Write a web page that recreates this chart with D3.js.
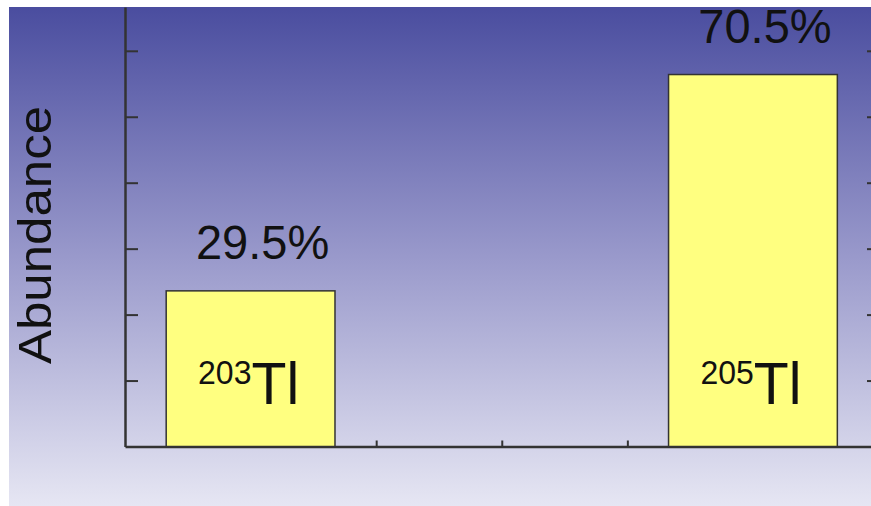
<!DOCTYPE html>
<html>
<head>
<meta charset="utf-8">
<script src="https://cdn.jsdelivr.net/npm/d3@7"></script>
<style>
  html, body { margin: 0; padding: 0; background: #ffffff; }
  svg { display: block; }
  text { font-family: "Liberation Sans", Arial, Helvetica, sans-serif; fill: #111; }
</style>
</head>
<body>
<svg id="chart" width="871" height="506"></svg>
<script>
// ---- data ----
const isotopes = ["203", "205"];        // mass numbers
const abundances = [29.5, 70.5];        // percent
const valueLabels = ["29.5%", "70.5%"];
const element = "Tl";
const axisTitle = "Abundance";
const yTickValues = [12.5, 25, 37.5, 50, 62.5, 75];
const xTickValues = [203, 203.5, 204, 204.5, 205];

const svg = d3.select("#chart");
const W = 871, H = 506;

// background gradient panel
const defs = svg.append("defs");
const grad = defs.append("linearGradient").attr("id", "bg")
  .attr("x1", 0).attr("y1", 0).attr("x2", 0).attr("y2", 1);
grad.append("stop").attr("offset", "0%").attr("stop-color", "#4a4d9f");
grad.append("stop").attr("offset", "50%").attr("stop-color", "#9999cb");
grad.append("stop").attr("offset", "100%").attr("stop-color", "#e6e6f3");
svg.append("rect").attr("x", 9).attr("y", 7).attr("width", W - 9).attr("height", H - 7)
  .attr("fill", "url(#bg)");

// scales
const x = d3.scaleLinear().domain([202.5, 205.47]).range([125, 871]);
const y = d3.scaleLinear().domain([0, 83.3]).range([446.5, 7]);
const halfBar = 0.336;

const axisColor = "#333";

// x axis (ticks pointing up)
const gx = svg.append("g").attr("transform", `translate(0,${y(0)})`)
  .call(d3.axisBottom(x).tickValues(xTickValues).tickSize(-6).tickSizeOuter(0).tickFormat(""));
gx.select(".domain").attr("stroke", axisColor).attr("stroke-width", 2.5);
gx.selectAll(".tick line").attr("stroke", axisColor).attr("stroke-width", 2);

// y axis (ticks pointing right)
const gy = svg.append("g").attr("transform", `translate(${x(202.5)},0)`)
  .call(d3.axisLeft(y).tickValues(yTickValues).tickSize(-13).tickSizeOuter(0).tickFormat(""));
gy.select(".domain").attr("stroke", axisColor).attr("stroke-width", 2.5);
gy.selectAll(".tick line").attr("stroke", axisColor).attr("stroke-width", 2);

// right axis (ticks pointing left), line at edge
const gr = svg.append("g").attr("transform", `translate(${x(205.47) + 1},0)`)
  .call(d3.axisLeft(y).tickValues(yTickValues).tickSize(5).tickSizeOuter(0).tickFormat(""));
gr.select(".domain").attr("stroke", "none");
gr.selectAll(".tick line").attr("stroke", axisColor).attr("stroke-width", 2);

// bars
const data = isotopes.map((m, i) => ({ m: +m, label: m, v: abundances[i], txt: valueLabels[i] }));
svg.selectAll("rect.bar").data(data).enter().append("rect")
  .attr("class", "bar")
  .attr("x", d => x(d.m - halfBar))
  .attr("width", d => x(d.m + halfBar) - x(d.m - halfBar))
  .attr("y", d => y(d.v))
  .attr("height", d => y(0) - y(d.v))
  .attr("fill", "#ffff80")
  .attr("stroke", "#333")
  .attr("stroke-width", 1.5);

// value labels
svg.selectAll("text.val").data(data).enter().append("text")
  .attr("class", "val")
  .attr("text-anchor", "middle")
  .attr("font-size", 48)
  .attr("transform", d => `translate(${x(d.m) + 12},${y(d.v) - 32}) scale(0.98,1)`)
  .text(d => d.txt);

// isotope labels inside bars
const iso = svg.selectAll("text.iso").data(data).enter().append("text")
  .attr("class", "iso")
  .attr("text-anchor", "middle")
  .attr("transform", d => `translate(${x(d.m) - 2},404) scale(0.97,1)`);
iso.append("tspan").attr("font-size", 33).attr("dy", -20).text(d => d.label);
iso.append("tspan").attr("font-size", 59).attr("dy", 20).text(element);

// y-axis title
svg.append("text")
  .attr("text-anchor", "middle")
  .attr("font-size", 51)
  .attr("transform", `translate(51,235) rotate(-90) scale(1,0.92)`)
  .text(axisTitle);
</script>
</body>
</html>
